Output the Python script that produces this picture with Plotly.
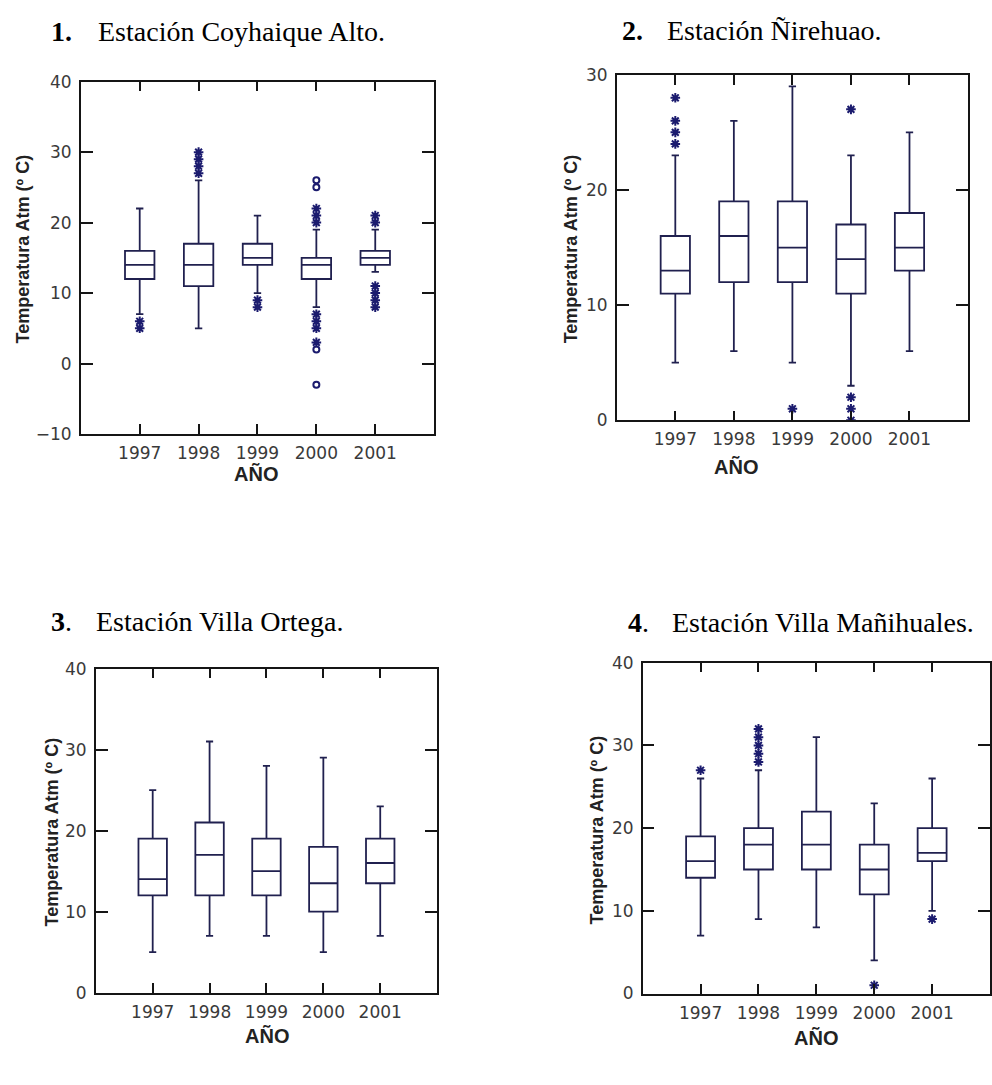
import plotly.graph_objects as go

YEARS = ["1997", "1998", "1999", "2000", "2001"]

# 1. Coyhaique Alto
COY_LOW = [7, 5, 10, 8, 13]
COY_Q1 = [12, 11, 14, 12, 14]
COY_MED = [14, 14, 15, 14, 15]
COY_Q3 = [16, 17, 17, 15, 16]
COY_HIGH = [22, 26, 21, 19, 19]
COY_STAR_YEAR = ["1997", "1997", "1998", "1998", "1998", "1998", "1999", "1999",
                 "2000", "2000", "2000", "2000", "2000", "2000", "2000",
                 "2001", "2001", "2001", "2001", "2001", "2001"]
COY_STAR_VAL = [6, 5, 27, 28, 29, 30, 9, 8,
                22, 21, 20, 7, 6, 5, 3,
                21, 20, 11, 10, 9, 8]
COY_RING_YEAR = ["2000", "2000", "2000", "2000"]
COY_RING_VAL = [26, 25, 2, -3]

# 2. Ñirehuao
NIR_LOW = [5, 6, 5, 3, 6]
NIR_Q1 = [11, 12, 12, 11, 13]
NIR_MED = [13, 16, 15, 14, 15]
NIR_Q3 = [16, 19, 19, 17, 18]
NIR_HIGH = [23, 26, 29, 23, 25]
NIR_STAR_YEAR = ["1997", "1997", "1997", "1997", "1999", "2000", "2000", "2000", "2000"]
NIR_STAR_VAL = [28, 26, 25, 24, 1, 27, 2, 1, 0]

# 3. Villa Ortega
VOR_LOW = [5, 7, 7, 5, 7]
VOR_Q1 = [12, 12, 12, 10, 13.5]
VOR_MED = [14, 17, 15, 13.5, 16]
VOR_Q3 = [19, 21, 19, 18, 19]
VOR_HIGH = [25, 31, 28, 29, 23]

# 4. Villa Mañihuales
MAN_LOW = [7, 9, 8, 4, 10]
MAN_Q1 = [14, 15, 15, 12, 16]
MAN_MED = [16, 18, 18, 15, 17]
MAN_Q3 = [19, 20, 22, 18, 20]
MAN_HIGH = [26, 27, 31, 23, 26]
MAN_STAR_YEAR = ["1997", "1998", "1998", "1998", "1998", "1998", "2000", "2001"]
MAN_STAR_VAL = [27, 28, 29, 30, 31, 32, 1, 9]

W, H = 992, 1085
LINE = "#20204f"
MARK = "#1b1b6e"
AXIS = "#151515"
TICK_FONT = dict(family="DejaVu Sans", size=17, color="#3a3a3a")
YLABEL_FONT = dict(family="Liberation Sans", size=18, color="#222")
XLABEL_FONT = dict(family="Liberation Sans", size=20, color="#222")
TITLE_FONT = dict(family="Liberation Serif", size=28, color="black")


def px_x(x):
    return x / W


def px_y(y):
    return 1 - y / H


fig = go.Figure()


def add_panel(n, low, q1, med, q3, high, yrange, box_px,
              star_year=None, star_val=None, ring_year=None, ring_val=None):
    """Adds one station panel on axes n, placed on the pixel box box_px."""
    suffix = "" if n == 1 else str(n)
    xa, ya = "x" + suffix, "y" + suffix
    fig.add_trace(go.Box(
        x=YEARS, q1=q1, median=med, q3=q3, lowerfence=low, upperfence=high,
        width=0.5, whiskerwidth=0.25, boxpoints=False,
        line=dict(color=LINE, width=1.8), fillcolor="rgba(0,0,0,0)",
        xaxis=xa, yaxis=ya, showlegend=False,
    ))
    if star_year:
        fig.add_trace(go.Scatter(
            x=star_year, y=star_val, mode="markers",
            marker=dict(symbol="asterisk-open", size=8, color=MARK,
                        line=dict(color=MARK, width=2)),
            xaxis=xa, yaxis=ya, showlegend=False,
        ))
    if ring_year:
        fig.add_trace(go.Scatter(
            x=ring_year, y=ring_val, mode="markers",
            marker=dict(symbol="circle-open", size=6, color=MARK,
                        line=dict(color=MARK, width=2)),
            xaxis=xa, yaxis=ya, showlegend=False,
        ))

    x0, y0, x1, y1 = box_px
    common = dict(
        showline=True, linecolor=AXIS, linewidth=1.5, mirror="ticks",
        ticks="inside", tickcolor=AXIS, tickwidth=1.5,
        showgrid=False, zeroline=False, tickfont=TICK_FONT,
    )
    fig.update_layout({
        "xaxis" + suffix: dict(
            common, anchor=ya, domain=[px_x(x0), min(px_x(x1), 1)],
            type="category", categoryorder="array", categoryarray=YEARS,
            range=[-1, 5], ticklen=10, ticklabelstandoff=3,
        ),
        "yaxis" + suffix: dict(
            common, anchor=xa, domain=[px_y(y1), px_y(y0)],
            range=yrange, dtick=10, tick0=0, ticklen=12, ticklabelstandoff=4,
        ),
    })


add_panel(1, COY_LOW, COY_Q1, COY_MED, COY_Q3, COY_HIGH, [-10, 40],
          (81, 73, 435, 432), COY_STAR_YEAR, COY_STAR_VAL,
          COY_RING_YEAR, COY_RING_VAL)
add_panel(2, NIR_LOW, NIR_Q1, NIR_MED, NIR_Q3, NIR_HIGH, [0, 30],
          (618, 66, 970, 418), NIR_STAR_YEAR, NIR_STAR_VAL)
add_panel(3, VOR_LOW, VOR_Q1, VOR_MED, VOR_Q3, VOR_HIGH, [0, 40],
          (96, 671, 438, 1001))
add_panel(4, MAN_LOW, MAN_Q1, MAN_MED, MAN_Q3, MAN_HIGH, [0, 40],
          (644, 665, 993, 1002), MAN_STAR_YEAR, MAN_STAR_VAL)

# panel titles: (number, number x, text x, centre y, text)
TITLES = [
    ("<b>1.</b>", 50, 97, 22, "Estación Coyhaique Alto."),
    ("<b>2.</b>", 622, 667, 21, "Estación Ñirehuao."),
    ("<b>3</b>.", 50, 95, 623, "Estación Villa Ortega."),
    ("<b>4</b>.", 628, 672, 624, "Estación Villa Mañihuales."),
]
for num, nx, tx, cy, text in TITLES:
    for s, x in ((num, nx), (text, tx)):
        fig.add_annotation(
            text=s, x=px_x(x), y=px_y(cy), xref="paper", yref="paper",
            xanchor="left", yanchor="middle", showarrow=False,
            borderpad=0, font=TITLE_FONT,
        )

# axis titles: (y label x, y label y, AÑO x, AÑO y)
AXIS_TITLES = [
    (23, 243, 257, 473),
    (572, 243, 737, 466),
    (52, 837, 268, 1045),
    (598, 835, 818, 1047),
]
for lx, ly, ax, ay in AXIS_TITLES:
    fig.add_annotation(
        text="<b>Temperatura Atm (º C)</b>", x=px_x(lx), y=px_y(ly),
        xref="paper", yref="paper", textangle=-90, showarrow=False,
        xanchor="center", yanchor="middle", font=YLABEL_FONT,
    )
    fig.add_annotation(
        text="<b>AÑO</b>", x=px_x(ax), y=px_y(ay),
        xref="paper", yref="paper", showarrow=False,
        xanchor="center", yanchor="middle", font=XLABEL_FONT,
    )

fig.update_layout(
    width=W, height=H, margin=dict(l=0, r=0, t=0, b=0),
    plot_bgcolor="white", paper_bgcolor="white", showlegend=False,
)

# drop the browser's default body margin so the figure sits at (0, 0)
fig.write_html(
    "out.html",
    config={"displayModeBar": False},
    post_script="document.body.style.margin = '0';",
)
